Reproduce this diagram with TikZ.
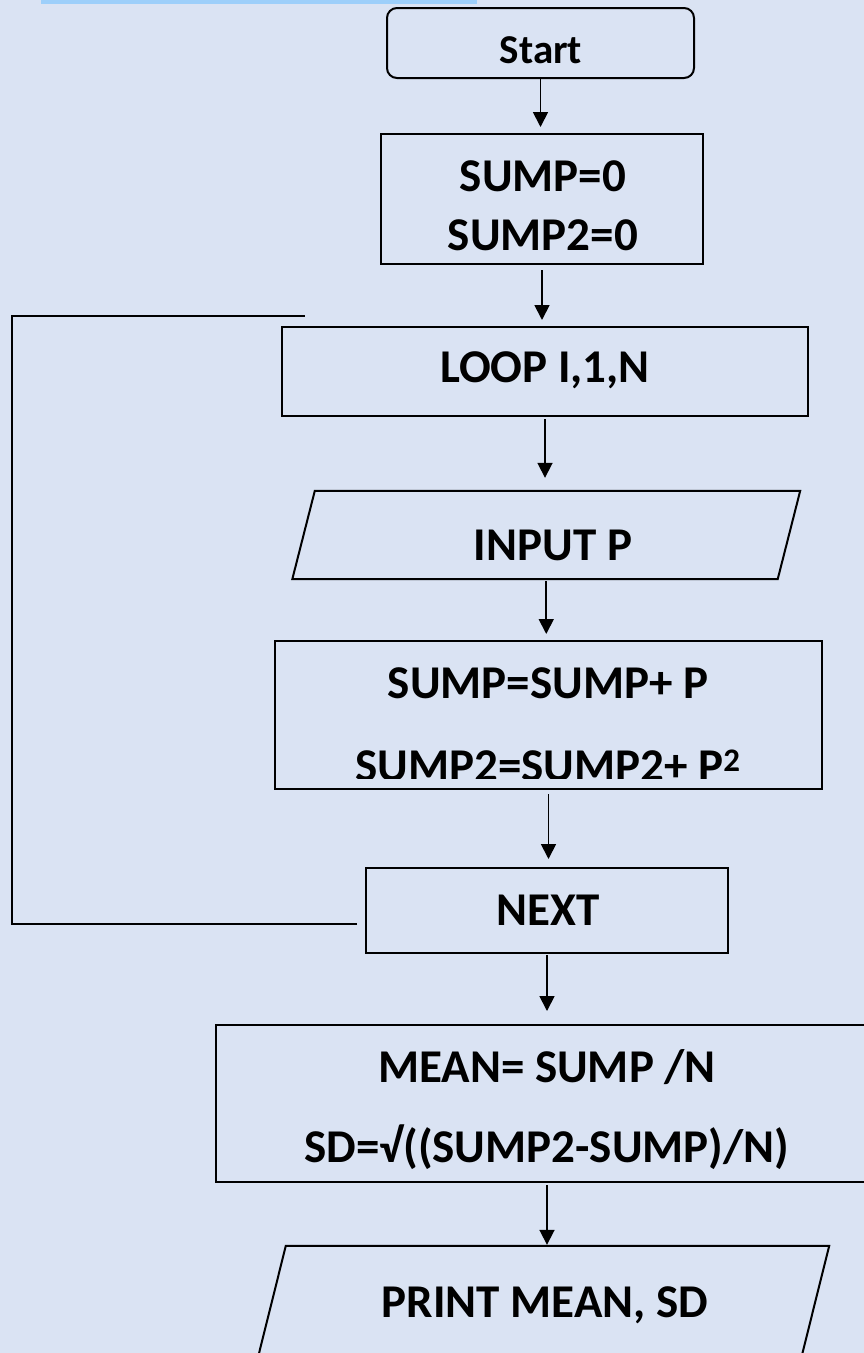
\documentclass[tikz,border=0pt]{standalone}
\usepackage{fontspec}
\setmainfont{Carlito}
\usetikzlibrary{arrows.meta}

\definecolor{pagebg}{RGB}{218,227,243}
\definecolor{topbar}{RGB}{157,207,250}

\tikzset{
	box/.style={draw, line width=2pt, inner sep=0pt},
	rbox/.style={box, rounded corners=10pt},
	io/.style={inner sep=0pt},
	txt/.style={anchor=base, inner sep=0pt, font=\bfseries\fontsize{47}{56}\selectfont},
	flow/.style={-{Triangle[width=15pt,length=15pt]}, line width=1.8pt}
}

\begin{document}
\begin{tikzpicture}[x=1pt,y=-1pt]
		\fill[pagebg] (0,0) rectangle (864,1353);
		\clip (0,0) rectangle (864,1353);
		\fill[topbar] (41,0) rectangle (477,4);
		\draw
			(540.5,43) node [rbox, minimum width=307, minimum height=70] (start) {}
			(542,199) node [box, minimum width=322, minimum height=130] (init) {}
			(545,371.5) node [box, minimum width=526, minimum height=89] (loop) {}
			(546.25,535) node [io, minimum width=485, minimum height=88] (input) {}
			(548.5,715) node [box, minimum width=547, minimum height=148] (sum) {}
			(547,910.5) node [box, minimum width=362, minimum height=85] (next) {}
			(547,1103.5) node [box, minimum width=662, minimum height=157] (mean) {}
			(542.5,1306) node [io, minimum width=543, minimum height=120] (print) {}
			;
		% slanted input/output boxes
		\draw[line width=2pt] ([xshift=11.25pt]input.north west) -- ([xshift=11.25pt]input.north east)
			-- ([xshift=-11.25pt]input.south east) -- ([xshift=-11.25pt]input.south west) -- cycle;
		\draw[line width=2pt] ([xshift=15pt]print.north west) -- ([xshift=15pt]print.north east)
			-- ([xshift=-15pt]print.south east) -- ([xshift=-15pt]print.south west) -- cycle;
		\node [txt, font=\bfseries\fontsize{41}{49}\selectfont] (starttxt) at (541,63) {Start};
		\node [txt] (inittxta) at (543,191) {SUMP=0};
		\node [txt] (inittxtb) at (543,250) {SUMP2=0};
		\node [txt] (looptxt) at (545,382) {LOOP I,1,N};
		\node [txt] (inputtxt) at (553,560) {INPUT P};
		\node [txt] (sumtxta) at (548,698) {SUMP=SUMP+ P};
		\begin{scope}
			\clip (275,641) rectangle (822,778);
			\node [txt] (sumtxtb) at (548,781) {SUMP2=SUMP2+ P\textsuperscript{2}};
		\end{scope}
		\node [txt] (nexttxt) at (548,925) {NEXT};
		\node [txt] (meantxta) at (547,1082) {MEAN= SUMP /N};
		\node [txt] (meantxtb) at (547,1162) {SD=√((SUMP2-SUMP)/N)};
		\node [txt] (printtxt) at (545,1317) {PRINT MEAN, SD};
		\path[flow]
			(start.south) edge [shorten >=6pt] (start.south |- init.north)
			(init.south) edge [shorten <=5pt, shorten >=6pt] (init.south |- loop.north)
			(loop.south) edge [shorten <=2pt, shorten >=13pt] (loop.south |- input.north)
			(input.south) edge [shorten <=2pt, shorten >=6pt] (input.south |- sum.north)
			(sum.south) edge [shorten <=4pt, shorten >=8pt] (sum.south |- next.north)
			(next.south) edge [shorten <=1pt, shorten >=13pt] (next.south |- mean.north)
			(mean.south) edge [shorten <=2pt, shorten >=1pt] (mean.south |- print.north)
			;
		% loop back from NEXT to LOOP
		\coordinate (backfrom) at (357,924);
		\coordinate (backto) at (305,316);
		\draw[line width=2pt] (backfrom) -| (12,316) -- (backto);
	\end{tikzpicture}
\end{document}
